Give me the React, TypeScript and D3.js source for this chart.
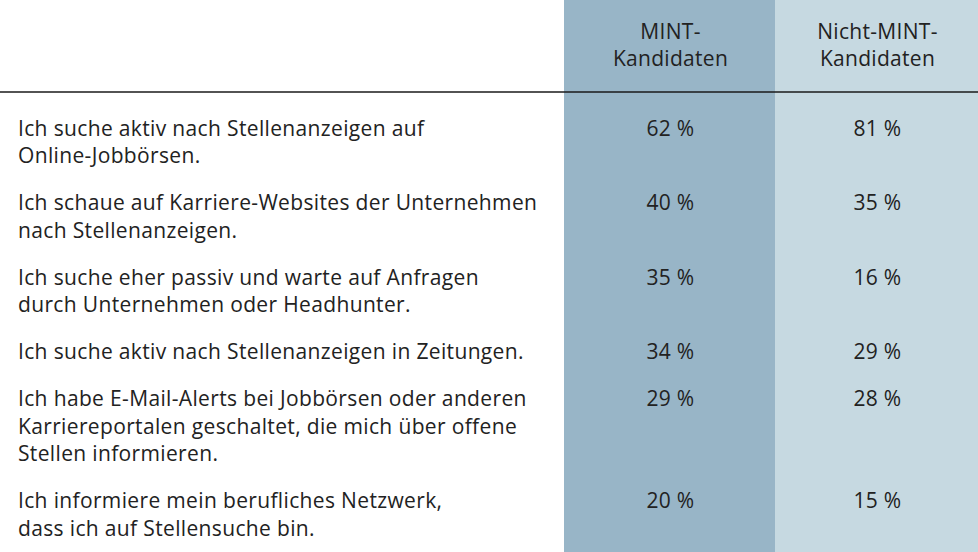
import React from "react";
import * as d3 from "d3";

const categories: string[][] = [
  ["Ich suche aktiv nach Stellenanzeigen auf", "Online-Jobbörsen."],
  ["Ich schaue auf Karriere-Websites der Unternehmen", "nach Stellenanzeigen."],
  ["Ich suche eher passiv und warte auf Anfragen", "durch Unternehmen oder Headhunter."],
  ["Ich suche aktiv nach Stellenanzeigen in Zeitungen."],
  ["Ich habe E-Mail-Alerts bei Jobbörsen oder anderen", "Karriereportalen geschaltet, die mich über offene", "Stellen informieren."],
  ["Ich informiere mein berufliches Netzwerk,", "dass ich auf Stellensuche bin."],
];
const mintValues = [62, 40, 35, 34, 29, 20];
const nichtMintValues = [81, 35, 16, 29, 28, 15];
const seriesHeaders: string[][] = [["MINT-", "Kandidaten"], ["Nicht-MINT-", "Kandidaten"]];
const seriesKeys = ["mint", "nichtMint"];

const W = 978;
const H = 552;
const FONT = "'Open Sans', sans-serif";
const LINE_H = 27.5;
const ROW_GAP = 19.5;
const FIRST_BASELINE = 135.5;

export default function App() {
  const x = d3.scaleBand<string>().domain(seriesKeys).range([564, 986]).paddingInner(0);
  const colColors = ["#98b5c7", "#c6d9e1"];
  const seriesValues = [mintValues, nichtMintValues];
  const center = (k: string) => {
    const x0 = x(k) as number;
    const x1 = Math.min(W, x0 + x.bandwidth());
    return (x0 + x1) / 2 + 1;
  };

  const rowY: number[] = [];
  let y = FIRST_BASELINE;
  categories.forEach((c) => {
    rowY.push(y);
    y += c.length * LINE_H + ROW_GAP;
  });

  return (
    <svg width={W} height={H} style={{ position: "absolute", left: 0, top: 0 }} fontFamily={FONT}>
      <rect x={0} y={0} width={W} height={H} fill="#ffffff" />
      {seriesKeys.map((k, i) => (
        <rect key={k} x={x(k)} y={0} width={x.bandwidth()} height={H} fill={colColors[i]} />
      ))}
      {seriesKeys.map((k, i) =>
        seriesHeaders[i].map((t, j) => (
          <text
            key={k + j}
            x={center(k)}
            y={38.5 + j * 27.5}
            textAnchor="middle"
            fontSize={21}
            letterSpacing={0.3}
            fill="#222"
          >
            {t}
          </text>
        ))
      )}
      <line x1={0} x2={W} y1={92} y2={92} stroke="#1a1a1a" strokeWidth={1.5} />
      {categories.map((lines, r) =>
        lines.map((t, j) => (
          <text
            key={r + "-" + j}
            x={18}
            y={rowY[r] + j * LINE_H}
            fontSize={21}
            letterSpacing={0.35}
            fill="#222"
          >
            {t}
          </text>
        ))
      )}
      {seriesKeys.map((k, i) =>
        seriesValues[i].map((v, r) => (
          <text
            key={k + r}
            x={center(k)}
            y={rowY[r]}
            textAnchor="middle"
            fontSize={21}
            letterSpacing={0.3}
            fill="#222"
          >
            {v + " %"}
          </text>
        ))
      )}
    </svg>
  );
}
